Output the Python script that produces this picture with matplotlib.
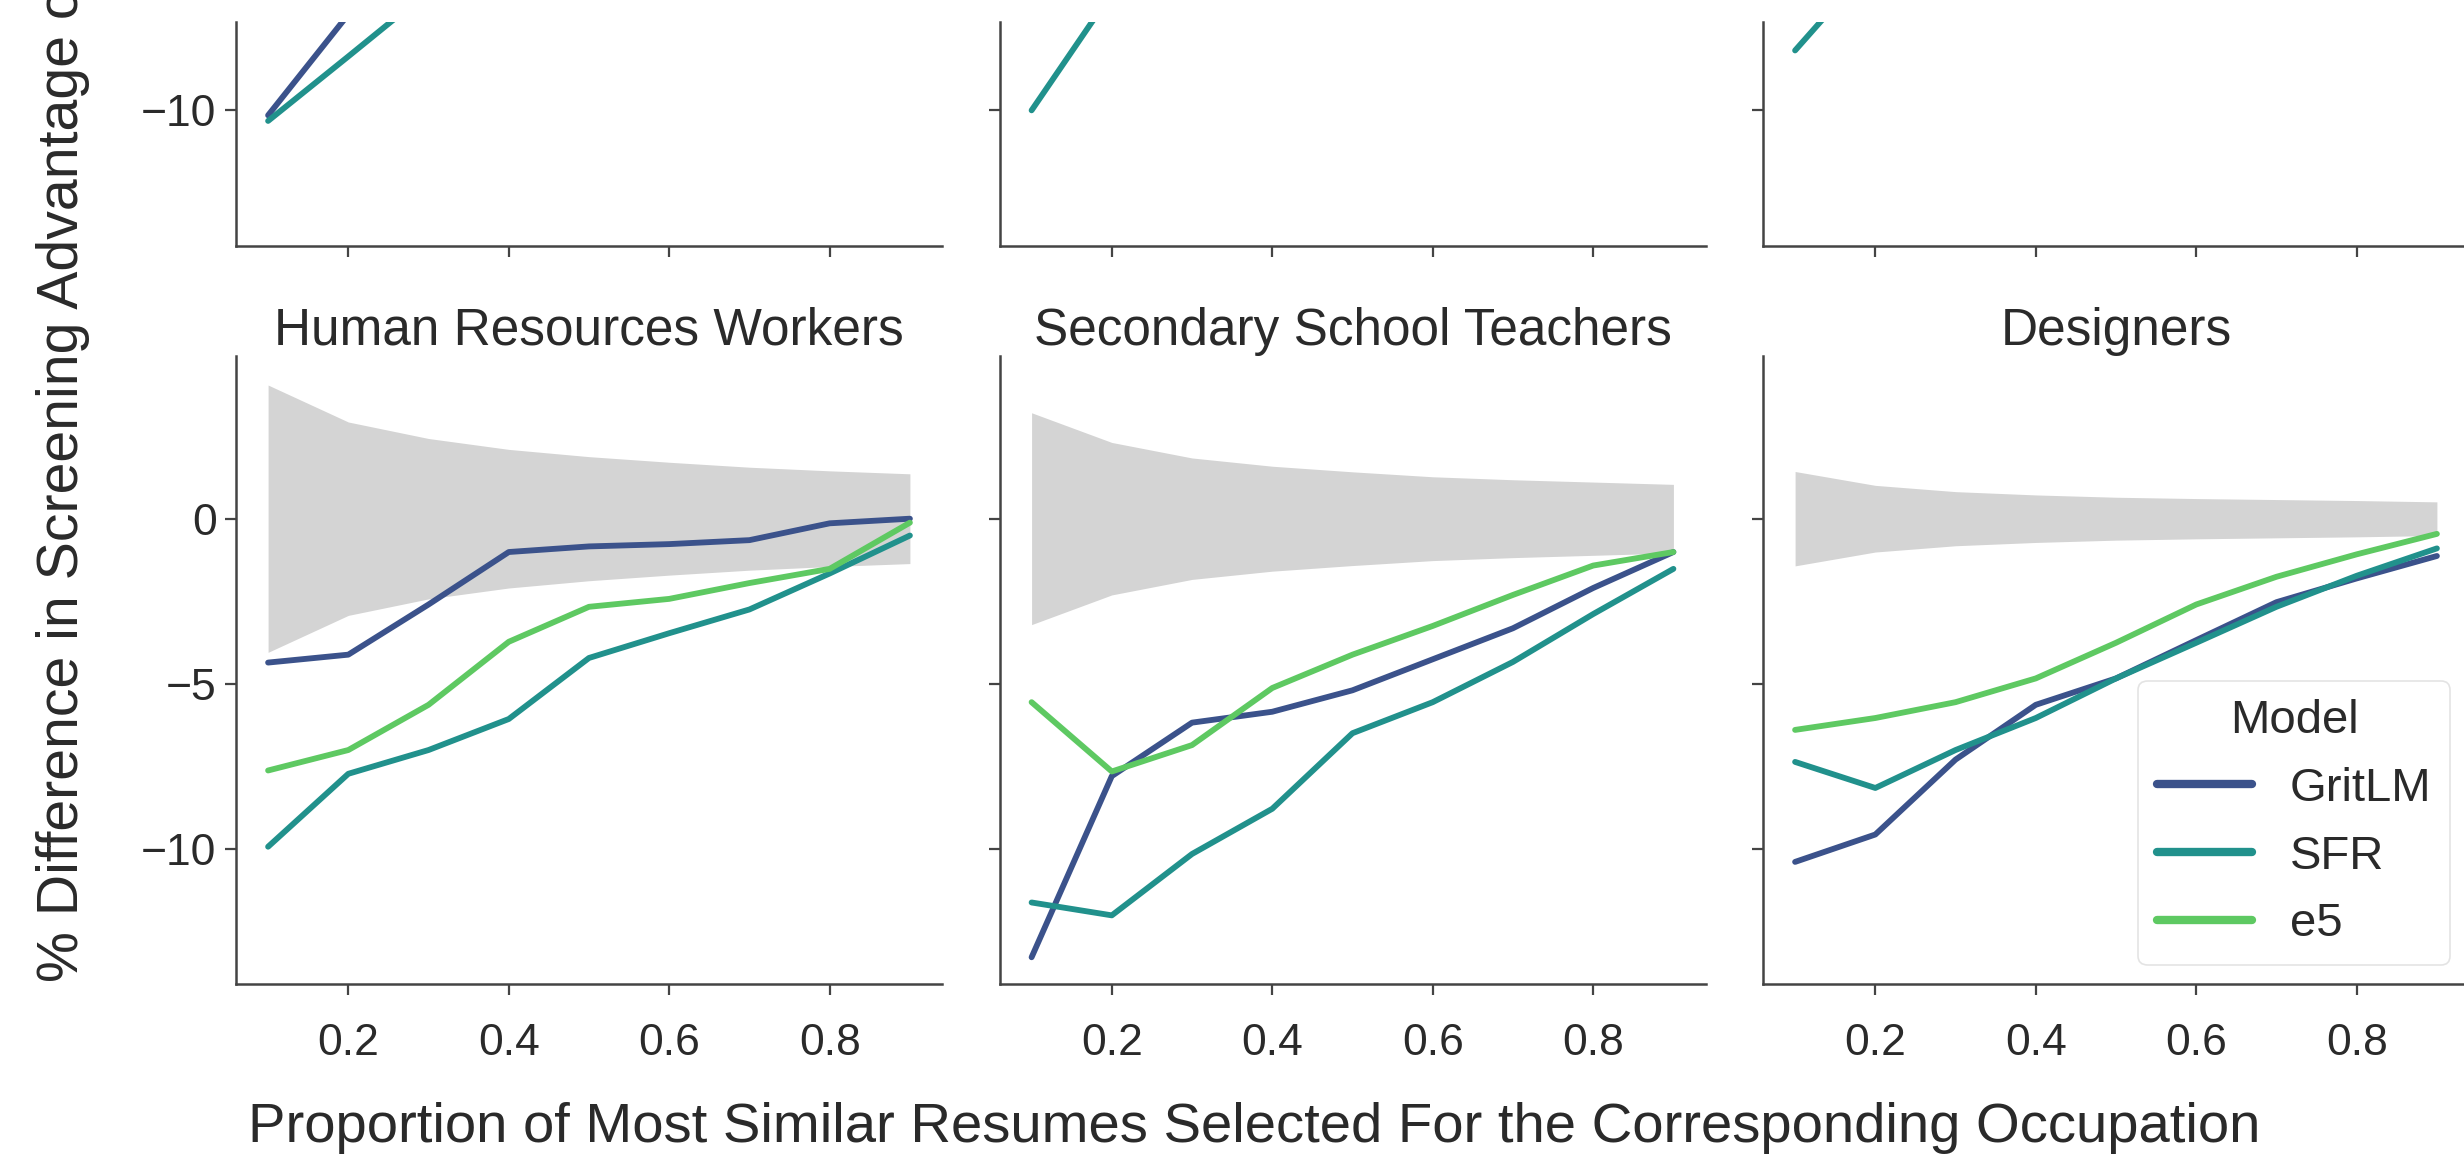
import matplotlib
matplotlib.use('Agg')
import matplotlib.pyplot as plt

plt.rcParams['font.family'] = ['Liberation Sans', 'DejaVu Sans']

# ---------------- data ----------------
x = [0.1, 0.2, 0.3, 0.4, 0.5, 0.6, 0.7, 0.8, 0.9]
models = ['GritLM', 'SFR', 'e5']
colors = ['#3b528b', '#21918c', '#5ec962']
occupations = ['Human Resources Workers', 'Secondary School Teachers', 'Designers']

hr_gritlm = [-4.36, -4.12, -2.6, -1.01, -0.84, -0.77, -0.65, -0.14, 0.0]
hr_sfr = [-9.94, -7.73, -7.01, -6.07, -4.22, -3.47, -2.75, -1.66, -0.51]
hr_e5 = [-7.63, -7.01, -5.64, -3.73, -2.67, -2.43, -1.95, -1.52, -0.12]
hr_band = [4.05, 2.93, 2.43, 2.1, 1.88, 1.71, 1.56, 1.45, 1.36]

sst_gritlm = [-13.29, -7.8, -6.18, -5.85, -5.2, -4.26, -3.32, -2.1, -1.01]
sst_sfr = [-11.63, -12.02, -10.16, -8.79, -6.5, -5.56, -4.34, -2.89, -1.52]
sst_e5 = [-5.56, -7.66, -6.86, -5.13, -4.12, -3.25, -2.31, -1.42, -1.01]
sst_band = [3.21, 2.31, 1.84, 1.59, 1.42, 1.27, 1.18, 1.11, 1.04]

des_gritlm = [-10.4, -9.57, -7.3, -5.64, -4.84, -3.68, -2.53, -1.81, -1.13]
des_sfr = [-7.37, -8.16, -7.01, -6.04, -4.84, -3.76, -2.67, -1.73, -0.9]
des_e5 = [-6.4, -6.04, -5.56, -4.84, -3.76, -2.6, -1.76, -1.08, -0.46]
des_band = [1.43, 1.01, 0.82, 0.72, 0.65, 0.61, 0.58, 0.55, 0.51]

# upper (mostly cropped) row: only the visible starts of the lines
top_x = [0.1, 0.2, 0.3]
top1_gritlm = [-10.15, -7.1, -4.0]
top1_sfr = [-10.32, -8.37, -6.4]
top2_sfr = [-10.0, -6.45, -3.0]
top3_sfr = [-8.19, -5.45, -2.7]

xticks = [0.2, 0.4, 0.6, 0.8]
yticks = [-10, -5, 0]

# ---------------- figure ----------------
W, H = 2464, 1174
fig = plt.figure(figsize=(W / 100, H / 100), dpi=100)

lefts = [236, 999.5, 1763]
width = 706
bot_bottom, bot_top = 984, 356
top_bottom, top_top = 246, 22
ylim_bottom = (-14.1, 4.93)
ylim_top = (-14.1, -7.33)

spine_col = '#444444'
text_col = '#2a2a2a'
tick_fs = 32
title_fs = 37
label_fs = 40.5


def style(ax):
    for s in ['top', 'right']:
        ax.spines[s].set_visible(False)
    for s in ['left', 'bottom']:
        ax.spines[s].set_color(spine_col)
        ax.spines[s].set_linewidth(1.8)
    ax.tick_params(axis='both', colors=spine_col, length=8, width=1.6,
                   labelsize=tick_fs, labelcolor=text_col)
    ax.tick_params(axis='x', pad=20)
    ax.tick_params(axis='y', pad=6)
    ax.set_xlim(0.06, 0.94)
    ax.set_xticks(xticks)
    ax.set_yticks(yticks)


bottom_data = [
    (hr_gritlm, hr_sfr, hr_e5, hr_band),
    (sst_gritlm, sst_sfr, sst_e5, sst_band),
    (des_gritlm, des_sfr, des_e5, des_band),
]
top_data = [
    [(top1_gritlm, colors[0]), (top1_sfr, colors[1])],
    [(top2_sfr, colors[1])],
    [(top3_sfr, colors[1])],
]

lw = 4.2
for i in range(3):
    # top row (cropped)
    axt = fig.add_axes([lefts[i] / W, 1 - top_bottom / H, width / W,
                        (top_bottom - top_top) / H])
    style(axt)
    axt.set_ylim(*ylim_top)
    for vals, c in top_data[i]:
        axt.plot(top_x, vals, color=c, lw=lw, solid_capstyle='round')
    axt.set_xticklabels([])
    if i > 0:
        axt.set_yticklabels([])

    # bottom row
    ax = fig.add_axes([lefts[i] / W, 1 - bot_bottom / H, width / W,
                       (bot_bottom - bot_top) / H])
    style(ax)
    ax.set_ylim(*ylim_bottom)
    g, s, e, b = bottom_data[i]
    ax.fill_between(x, [-v for v in b], b, color='#d4d4d4', lw=0)
    for vals, c, m in zip((g, s, e), colors, models):
        ax.plot(x, vals, color=c, lw=lw, label=m, solid_capstyle='round')
    ax.set_xticklabels([f'{t:.1f}' for t in xticks])
    if i > 0:
        ax.set_yticklabels([])
    else:
        ax.set_yticklabels(['\u221210', '\u22125', '0'])
    ax.set_title(occupations[i], fontsize=title_fs, color=text_col, pad=8)
    if i == 2:
        leg = ax.legend(title='Model', loc='lower right', fontsize=34,
                        title_fontsize=34, frameon=True, fancybox=True,
                        borderaxespad=0.4, handlelength=2.0)
        leg.get_frame().set_edgecolor('#dddddd')
        leg.get_frame().set_linewidth(1.2)
        for t in leg.get_texts():
            t.set_color(text_col)
        leg.get_title().set_color(text_col)
        for ln in leg.get_lines():
            ln.set_linewidth(6)

fig.text(0.509, 1 - 1128 / H,
         'Proportion of Most Similar Resumes Selected For the Corresponding Occupation',
         ha='center', va='center', fontsize=label_fs, color=text_col)
fig.text(63 / W, 1 - 982 / H, '% Difference in Screening Advantage of',
         rotation=90, ha='center', va='bottom', fontsize=41.2, color=text_col)

fig.savefig('out.png', dpi=100)
